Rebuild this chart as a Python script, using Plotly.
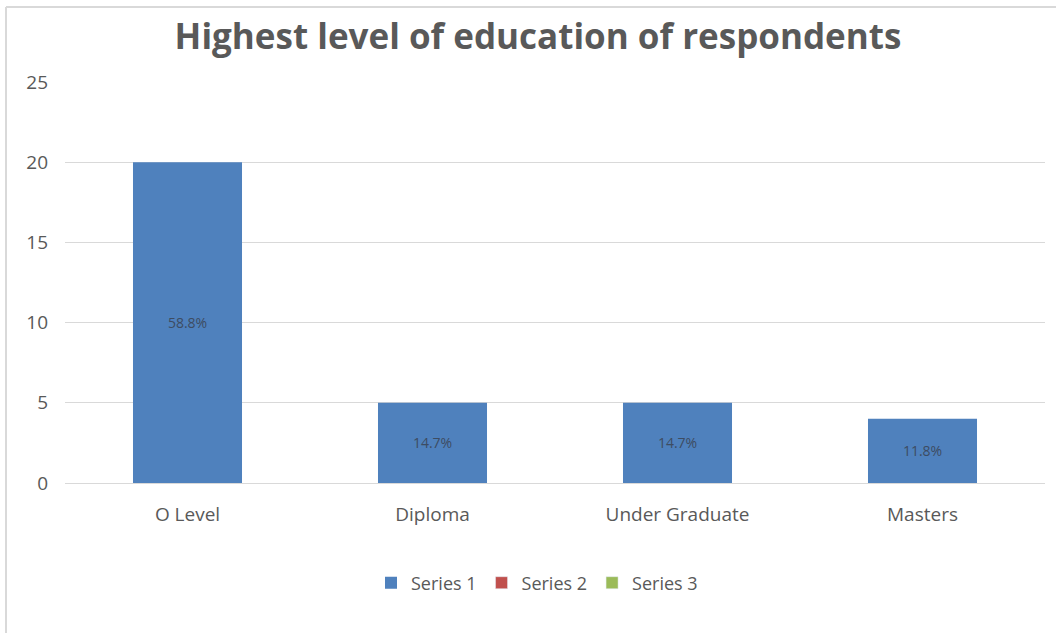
import plotly.graph_objects as go

categories = ["O Level", "Diploma", "Under Graduate", "Masters"]
series1 = [20, 5, 5, 4]
labels1 = ["58.8%", "14.7%", "14.7%", "11.8%"]
series_names = ["Series 1", "Series 2", "Series 3"]
series_colors = ["#4f81bd", "#c0504d", "#9bbb59"]
y_ticks = [0, 5, 10, 15, 20, 25]

W, H = 1056, 633
L, R, T, B = 65, 11, 82, 150
pw, ph = W - L - R, H - T - B

def px_x(p):
    return (p - L) / pw

def px_y(p):
    return (H - B - p) / ph

fig = go.Figure()
fig.add_trace(go.Bar(
    x=categories, y=series1, name=series_names[0],
    marker=dict(color=series_colors[0], line=dict(width=0)),
    text=labels1, textposition="inside", insidetextanchor="middle",
    textangle=0,
    textfont=dict(family="Open Sans", size=14, color="#3d4c62"),
    width=0.445,
))
for n, c in zip(series_names[1:], series_colors[1:]):
    fig.add_trace(go.Bar(x=categories, y=[None] * len(categories), name=n,
                         marker=dict(color=c), width=0.445))

fig.update_layout(
    width=W, height=H,
    margin=dict(l=L, r=R, t=T, b=B),
    paper_bgcolor="white", plot_bgcolor="white",
    barmode="overlay",
    title=dict(text="<b>Highest level of education of respondents</b>",
               x=px_x(538), xref="paper", xanchor="center",
               y=1 - 37 / H, yanchor="middle",
               font=dict(family="Open Sans", size=35, color="#595959")),
    font=dict(family="Open Sans", color="#595959"),
    xaxis=dict(showgrid=False, showline=True, linecolor="#d9d9d9", linewidth=1,
               ticks="", tickfont=dict(size=19, color="#595959"),
               ticklabelstandoff=14, range=[-0.5, 3.5]),
    yaxis=dict(range=[0, 25], tickvals=y_ticks, showgrid=True, gridcolor="#d9d9d9",
               gridwidth=1, zeroline=False, showline=False, ticks="",
               tickfont=dict(size=19, color="#595959"), ticklabelstandoff=16),
    legend=dict(orientation="h", x=px_x(537), xanchor="center",
                y=px_y(583), yanchor="middle",
                font=dict(size=18, color="#595959"),
                itemwidth=30, traceorder="normal"),
    showlegend=True,
    shapes=[
        dict(type="line", xref="paper", yref="paper",
             x0=px_x(6), x1=px_x(W), y0=px_y(7), y1=px_y(7),
             line=dict(color="#d9d9d9", width=2)),
        dict(type="line", xref="paper", yref="paper",
             x0=px_x(6), x1=px_x(6), y0=px_y(7), y1=px_y(H),
             line=dict(color="#d9d9d9", width=2)),
    ],
)

fig.write_html("out.html", config={"displayModeBar": False},
               post_script="document.body.style.margin='0';document.body.style.overflow='hidden';")
